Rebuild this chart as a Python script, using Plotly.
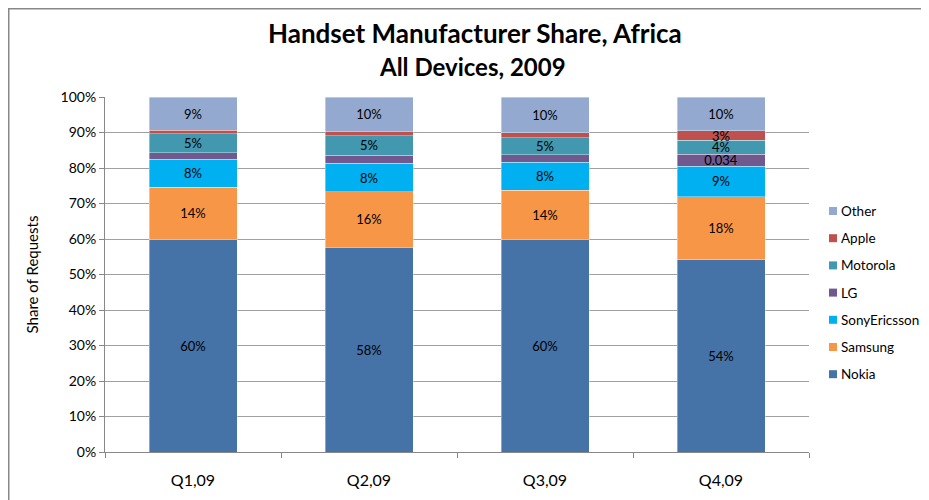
import plotly.graph_objects as go

quarters = ["Q1,09", "Q2,09", "Q3,09", "Q4,09"]
series = ["Nokia", "Samsung", "SonyEricsson", "LG", "Motorola", "Apple", "Other"]
nokia = [0.600, 0.577, 0.600, 0.541]
samsung = [0.146, 0.156, 0.138, 0.178]
sonyericsson = [0.079, 0.080, 0.078, 0.086]
lg = [0.018, 0.023, 0.021, 0.034]
motorola = [0.054, 0.055, 0.048, 0.039]
apple = [0.010, 0.013, 0.014, 0.027]
other = [0.093, 0.096, 0.101, 0.095]

labels = {
    "Nokia": ["60%", "58%", "60%", "54%"],
    "Samsung": ["14%", "16%", "14%", "18%"],
    "SonyEricsson": ["8%", "8%", "8%", "9%"],
    "LG": ["", "", "", "0.034"],
    "Motorola": ["5%", "5%", "5%", "4%"],
    "Apple": ["", "", "", "3%"],
    "Other": ["9%", "10%", "10%", "10%"],
}
values = {
    "Nokia": nokia, "Samsung": samsung, "SonyEricsson": sonyericsson,
    "LG": lg, "Motorola": motorola, "Apple": apple, "Other": other,
}
colors = {
    "Nokia": "#4572A7", "Samsung": "#F79646", "SonyEricsson": "#00B0F0",
    "LG": "#71588F", "Motorola": "#4198AF", "Apple": "#C0504D", "Other": "#93A9CF",
}

FONT = "Lato, Open Sans, sans-serif"
fig = go.Figure()
for s in series:
    fig.add_trace(go.Bar(
        x=quarters, y=values[s], name=s, showlegend=False,
        marker=dict(color=colors[s], line=dict(color="rgba(255,255,255,0.6)", width=0.6)),
        text=labels[s], textposition="inside", insidetextanchor="middle",
        textfont=dict(color="black", size=13, family=FONT),
        constraintext="none", textangle=0,
        hoverinfo="name+y",
    ))

# figure is drawn 8px in from the page corner (body margin)
W, H = 921, 492
L, R, T, B = 97, 120, 89, 48
pw, ph = W - L - R, H - T - B

def px(x):
    return (x - L) / pw

def py(y):
    return 1 - (y - T) / ph

annotations = [
    dict(text="<b>Handset Manufacturer Share, Africa</b>", xref="paper", yref="paper",
         x=px(467), y=py(25), xanchor="center", yanchor="middle",
         showarrow=False, font=dict(size=26, family=FONT)),
    dict(text="<b>All Devices, 2009</b>", xref="paper", yref="paper",
         x=px(464), y=py(58), xanchor="center", yanchor="middle",
         showarrow=False, font=dict(size=24, family=FONT)),
]
shapes = [
    dict(type="rect", xref="paper", yref="paper",
         x0=px(0.75), x1=px(W + 20), y0=py(H + 20), y1=py(0.75),
         line=dict(color="#888888", width=1.5), fillcolor="rgba(0,0,0,0)", layer="below"),
]

# legend (Other on top, Nokia at bottom)
leg_top, leg_step = 203, 27.2
for i, s in enumerate(reversed(series)):
    yc = leg_top + i * leg_step
    shapes.append(dict(type="rect", xref="paper", yref="paper",
                       x0=px(821), x1=px(829), y0=py(yc + 4), y1=py(yc - 4),
                       line=dict(width=0), fillcolor=colors[s]))
    annotations.append(dict(text=s, xref="paper", yref="paper", x=px(831), y=py(yc),
                            xanchor="left", yanchor="middle", showarrow=False,
                            font=dict(size=13.5, family=FONT)))

fig.update_layout(
    width=W, height=H, barmode="stack", bargap=0.5,
    margin=dict(l=L, r=R, t=T, b=B, autoexpand=False),
    paper_bgcolor="white", plot_bgcolor="white",
    font=dict(family=FONT, color="black", size=14),
    uniformtext=dict(minsize=8, mode="show"),
    showlegend=False,
    xaxis=dict(type="category", tickson="boundaries", ticks="outside", ticklen=5,
               tickcolor="#888888", showline=True, linecolor="#888888", linewidth=1,
               showgrid=False, tickfont=dict(size=16, family=FONT), ticklabelstandoff=14),
    yaxis=dict(range=[0, 1], tickformat=".0%", dtick=0.1, ticks="outside", ticklen=5,
               tickcolor="#888888", showline=True, linecolor="#888888", linewidth=1,
               showgrid=True, gridcolor="#A0A0A0", gridwidth=1, zeroline=False,
               tickfont=dict(size=14, family=FONT),
               title=dict(text="Share of Requests", font=dict(size=15, family=FONT), standoff=18)),
    annotations=annotations,
    shapes=shapes,
)

fig.write_html("out.html")
